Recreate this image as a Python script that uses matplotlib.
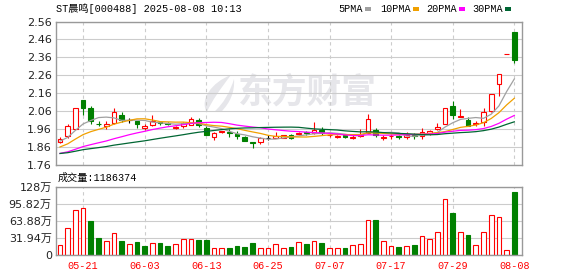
import numpy as np
import pandas as pd
import matplotlib
matplotlib.use('Agg')
import matplotlib.pyplot as plt
from matplotlib.patches import Rectangle, PathPatch
from matplotlib.path import Path

# 日K数据 (2025-05-16 .. 2025-08-08)
open_ = [1.89, 1.92, 1.962, 2.12, 2.08, 1.99, 1.975, 1.992, 2.04, 2.01,
         2.006, 1.965, 1.982, 2.002, 1.995, 1.965, 1.975, 1.985, 2.01, 1.965,
         1.914, 1.945, 1.945, 1.935, 1.918, 1.888, 1.887, 1.91, 1.911, 1.913,
         1.927, 1.935, 1.942, 1.94, 1.955, 1.925, 1.918, 1.925, 1.912, 1.92,
         1.94, 1.955, 1.91, 1.92, 1.92, 1.918, 1.93, 1.922, 1.937, 1.962,
         1.99, 2.09, 2.03, 2.012, 1.99, 1.997, 2.06, 2.21, 2.38, 2.50]
high = [1.915, 1.99, 2.08, 2.125, 2.09, 2.005, 2.003, 2.075, 2.055, 2.02,
        2.008, 1.99, 2.04, 2.008, 2.0, 1.98, 2.0, 2.03, 2.02, 1.975,
        1.945, 1.95, 1.96, 1.95, 1.92, 1.89, 1.915, 1.925, 1.945, 1.93,
        1.935, 1.945, 1.948, 2.0, 1.97, 1.935, 1.93, 1.93, 1.925, 1.96,
        2.045, 1.966, 1.927, 1.935, 1.928, 1.945, 1.94, 1.965, 1.955, 1.992,
        2.075, 2.115, 2.073, 2.025, 2.006, 2.078, 2.155, 2.265, 2.38, 2.50]
low = [1.88, 1.91, 1.96, 2.04, 1.99, 1.975, 1.96, 1.99, 2.0, 1.995,
       1.966, 1.953, 1.98, 1.983, 1.985, 1.96, 1.965, 1.985, 1.97, 1.925,
       1.90, 1.94, 1.915, 1.905, 1.893, 1.852, 1.878, 1.90, 1.91, 1.91,
       1.905, 1.925, 1.93, 1.935, 1.93, 1.915, 1.91, 1.91, 1.905, 1.915,
       1.94, 1.918, 1.90, 1.905, 1.905, 1.905, 1.905, 1.905, 1.925, 1.955,
       1.99, 2.015, 2.028, 1.978, 1.98, 1.98, 2.053, 2.145, 2.38, 2.33]
close = [1.905, 1.975, 2.075, 2.08, 2.005, 1.987, 1.988, 2.053, 2.01, 2.01,
         1.99, 1.978, 2.006, 1.992, 1.99, 1.972, 1.992, 2.016, 1.985, 1.928,
         1.936, 1.948, 1.94, 1.92, 1.895, 1.885, 1.91, 1.91, 1.923, 1.926,
         1.913, 1.94, 1.938, 1.955, 1.937, 1.93, 1.922, 1.915, 1.918, 1.93,
         2.015, 1.925, 1.915, 1.924, 1.917, 1.925, 1.92, 1.942, 1.95, 1.97,
         2.075, 2.04, 2.035, 1.98, 1.993, 2.053, 2.155, 2.265, 2.38, 2.345]
# closes before the visible window, needed for the moving averages
hist_close = [1.84, 1.83, 1.82, 1.83, 1.82, 1.81, 1.82, 1.83, 1.82, 1.81,
              1.80, 1.79, 1.78, 1.79, 1.78, 1.79, 1.80, 1.79, 1.78, 1.79,
              1.80, 1.81, 1.83, 1.84, 1.86, 1.87, 1.88, 1.90, 1.91]

# 成交量 (万)
volume = [18.2, 50, 84, 88, 64, 32, 26, 41, 26, 20,
          24, 17, 22, 22.5, 17, 20, 31, 31, 28, 28,
          12.5, 14, 13, 17, 15, 22.5, 14, 14, 20, 14,
          15, 24, 21, 26, 22.5, 13, 13, 13, 18, 20,
          65, 66, 26, 16, 15, 16, 19, 35, 30, 42.5,
          104.5, 79, 44, 37.5, 18, 42.5, 76, 71, 9, 118.6374]
vol_up = [1, 1, 1, 1, 0, 0, 1, 1, 0, 1, 0, 0, 1, 0, 0, 1, 1, 1, 0, 0,
          1, 1, 0, 0, 0, 0, 1, 1, 1, 1, 0, 1, 0, 1, 0, 1, 1, 0, 1, 1,
          1, 0, 1, 1, 0, 1, 0, 1, 1, 1, 1, 0, 1, 0, 1, 1, 1, 1, 1, 0]

dates = pd.bdate_range('2025-05-16', '2025-08-08', freq='C', holidays=['2025-06-02'])
date_labels = [d.strftime('%m-%d') for d in dates]

ma_periods = [5, 10, 20, 30]
ma_colors = ['#a0a0a0', '#f0a000', '#ff00ff', '#006633']

RED = '#ff0000'
GREEN = '#008000'
WM = '#e6e6ea'

W, H = 578, 276
fig = plt.figure(figsize=(W / 100, H / 100), dpi=100)


def fx(px):
    return px / W


def fy(py):
    return 1 - py / H


ax = fig.add_axes([fx(56), fy(165), 466 / W, 143.5 / H])
axv = fig.add_axes([fx(56), fy(255), 466 / W, 68 / H])

n = len(close)
x = np.arange(n)
o = np.array(open_)
hi = np.array(high)
lo = np.array(low)
c = np.array(close)
prev = np.r_[hist_close[-1], c[:-1]]

# watermark: logo + 东方财富
ax.text(0.54, 0.51, '东方财富', transform=ax.transAxes, ha='center', va='center',
        fontsize=25, fontweight='bold', color=WM, family=['Noto Sans CJK SC'],
        zorder=0.1)
logo = [
    [(231, 75), (212, 82), (199, 100), (207, 112), (211, 102), (221, 88), (231, 75)],
    [(234, 79), (230, 92), (224, 103), (214, 112), (221, 112), (230, 103), (235, 92), (234, 79)],
]
for pts in logo:
    verts = [(fx(px), fy(py)) for px, py in pts]
    if len(pts) == 7:
        codes = [Path.MOVETO] + [Path.CURVE4] * 3 + [Path.CURVE4] * 3
    else:
        codes = [Path.MOVETO] + [Path.CURVE4] * 3 + [Path.LINETO] + [Path.CURVE4] * 3
    ax.add_patch(PathPatch(Path(verts, codes), transform=fig.transFigure,
                           facecolor=WM, edgecolor='none', zorder=0.1))

# candles
for i in range(n):
    if c[i] > o[i]:
        col = RED
    elif c[i] < o[i]:
        col = GREEN
    else:
        col = RED if c[i] > prev[i] else (GREEN if c[i] < prev[i] else 'black')
    ax.vlines(i, lo[i], hi[i], color=col, lw=0.8, zorder=2)
    bot = min(o[i], c[i])
    top = max(o[i], c[i])
    face = GREEN if col == GREEN else 'white'
    ax.bar(i, top - bot, bottom=bot, width=0.62, facecolor=face, edgecolor=col,
           lw=0.8, zorder=3)

# moving averages
full = pd.Series(hist_close + close)
for p, mc in zip(ma_periods, ma_colors):
    ma = full.rolling(p).mean().values[-n:]
    ax.plot(x, ma, color=mc, lw=0.9, zorder=4)

xlim = (-0.52, n)
tick_idx = list(range(3, n, 8))

for a in (ax, axv):
    a.set_xlim(*xlim)
    a.set_xticks(tick_idx)
    a.set_axisbelow(True)
    a.grid(axis='y', color='#cccccc', lw=0.8, ls='-')
    a.grid(axis='x', color='#cccccc', lw=0.8, ls=(0, (3, 3)))
    for s in a.spines.values():
        s.set_color('#999999')
        s.set_linewidth(1)
    a.tick_params(length=0, pad=3, labelsize=8, labelcolor='#222222')

ax.set_ylim(1.76, 2.56)
yt = [1.76 + 0.1 * k for k in range(9)]
ax.set_yticks(yt)
ax.set_yticklabels(['%.2f' % v for v in yt], family=['DejaVu Sans'])
ax.tick_params(labelbottom=False)

# volume bars
for i in range(n):
    if vol_up[i]:
        axv.bar(i, volume[i], width=0.62, facecolor='white', edgecolor=RED, lw=0.8)
    else:
        axv.bar(i, volume[i], width=0.62, facecolor=GREEN, edgecolor=GREEN, lw=0.8)

vmax = 127.76
axv.set_ylim(0, vmax)
vt = [0, 31.94, 63.88, 95.82, vmax]
axv.set_yticks(vt)
axv.set_yticklabels(['0', '31.94万', '63.88万', '95.82万', '128万'],
                    family=['DejaVu Sans', 'Noto Sans CJK SC'])
axv.set_xticklabels([date_labels[i] for i in tick_idx], color=RED,
                    family=['Liberation Mono'], fontsize=7.3)
axv.tick_params(axis='x', pad=4)

mono = ['Liberation Mono', 'Noto Sans CJK SC']
fig.text(fx(56), fy(9), 'ST晨鸣[000488] 2025-08-08 10:13', ha='left', va='center',
         fontsize=7.3, family=mono, color='black')
fig.text(fx(58), fy(177.5), '成交量:1186374', ha='left', va='center',
         fontsize=7.3, family=mono, color='black')

leg_x = [338, 380, 426, 472]
sq_x = [365.3, 413.3, 459.3, 505.3]
for p, mc, lx, sx in zip(ma_periods, ma_colors, leg_x, sq_x):
    fig.text(fx(lx), fy(9), '%dPMA' % p, ha='left', va='center', fontsize=7.3,
             family=mono, color='black')
    fig.patches.append(Rectangle((fx(sx), fy(10.5)), 5.4 / W, 3.2 / H,
                                 transform=fig.transFigure, facecolor=mc,
                                 edgecolor='none'))

fig.savefig('out.png', dpi=100)
